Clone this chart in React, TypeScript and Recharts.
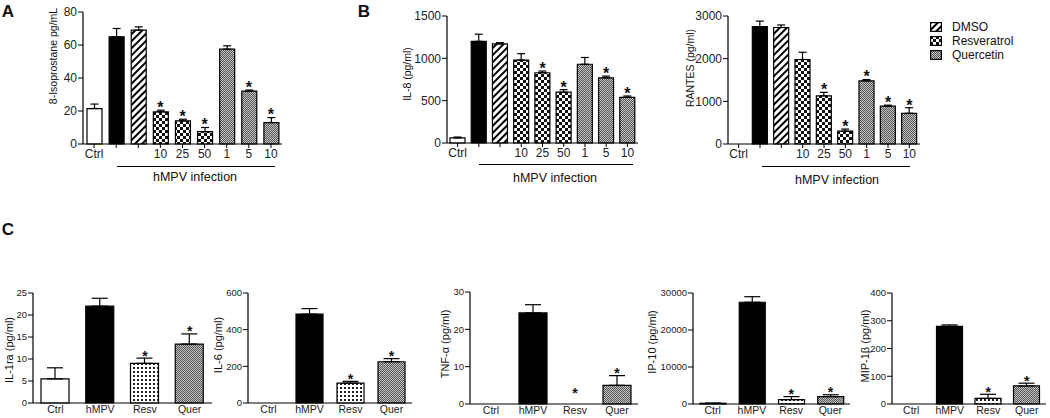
import React from "react";
import { ComposedChart, Bar, Cell, ErrorBar, Scatter, XAxis, YAxis } from "recharts";

const FONT = '"Liberation Sans", Arial, Helvetica, sans-serif';

// ---- panels A and B: dose series ----
const doseKeys = ["ctrl", "hmpv", "dmso", "r10", "r25", "r50", "q1", "q5", "q10"];
const doseLabels = ["Ctrl", "", "", "10", "25", "50", "1", "5", "10"];
const doseFills = [
  "#ffffff", "#000000", "url(#hatch)",
  "url(#chk)", "url(#chk)", "url(#chk)",
  "url(#fine)", "url(#fine)", "url(#fine)",
];

const isoValues = [21.5, 65, 69, 19.5, 14, 7.5, 57.5, 32, 13];
const isoErrors = [2.7, 5, 2, 1, 1, 2.5, 2, 0.7, 3];
const isoStars = [null, null, null, 20.5, 15, 10, null, 32.7, 16];
const isoTicks = [0, 20, 40, 60, 80];

const il8Values = [60, 1200, 1170, 980, 830, 600, 930, 770, 540];
const il8Errors = [10, 85, 15, 75, 20, 30, 80, 20, 15];
const il8Stars = [null, null, null, null, 850, 630, null, 790, 555];
const il8Ticks = [0, 500, 1000, 1500];

const rantesValues = [0, 2750, 2730, 1980, 1130, 300, 1480, 890, 720];
const rantesErrors = [0, 130, 60, 170, 80, 50, 30, 20, 130];
const rantesStars = [null, null, null, null, 1210, 350, 1510, 910, 850];
const rantesTicks = [0, 1000, 2000, 3000];

// ---- panel C: cytokines ----
const groupKeys = ["Ctrl", "hMPV", "Resv", "Quer"];
const groupFills = ["#ffffff", "#000000", "url(#dots)", "url(#fine)"];

const il1raValues = [5.5, 22, 9, 13.4];
const il1raErrors = [2.5, 1.8, 1.2, 2.3];
const il1raStars = [null, null, 10.2, 15.7];
const il1raTicks = [0, 5, 10, 15, 20, 25];

const il6Values = [0, 485, 108, 225];
const il6Errors = [0, 30, 10, 17];
const il6Stars = [null, null, 118, 242];
const il6Ticks = [0, 200, 400, 600];

const tnfValues = [0, 24.4, 0, 5];
const tnfErrors = [0, 2.2, 0, 2.6];
const tnfStars = [null, null, 2.2, 7.6];
const tnfTicks = [0, 10, 20, 30];

const ip10Values = [200, 27500, 1200, 2000];
const ip10Errors = [0, 1500, 800, 500];
const ip10Stars = [null, null, 2000, 2500];
const ip10Ticks = [0, 10000, 20000, 30000];

const mipValues = [0, 280, 20, 65];
const mipErrors = [0, 5, 15, 10];
const mipStars = [null, null, 35, 75];
const mipTicks = [0, 100, 200, 300, 400];

const legendItems = [
  { label: "DMSO", fill: "url(#hatch)" },
  { label: "Resveratrol", fill: "url(#chk)" },
  { label: "Quercetin", fill: "url(#fine)" },
];

type PanelProps = {
  x0: number;
  x1: number;
  yTop: number;
  yZero: number;
  keys: string[];
  labels: string[];
  values: number[];
  errors: number[];
  stars: (number | null)[];
  fills: string[];
  ticks: number[];
  barSize: number;
  capW: number;
  fontSize: number;
  yFontSize: number;
  starSize: number;
  tickLine: boolean;
};

const starShape = (size: number) => (props: any) => {
  const { cx, cy, payload } = props;
  if (payload == null || payload.star == null || !Number.isFinite(cy)) return <g />;
  return (
    <text x={cx} y={cy + size * 0.18} textAnchor="middle" fontSize={size} fontWeight="bold" fontFamily={FONT} fill="#111">
      *
    </text>
  );
};

function Panel(p: PanelProps) {
  const axisW = 44;
  const mTop = 14;
  const axisH = 28;
  const data = p.keys.map((k, i) => ({
    key: k,
    value: p.values[i],
    err: [0, p.errors[i]],
    star: p.stars[i],
  }));
  const width = p.x1 - p.x0 + axisW + 4;
  const height = p.yZero - p.yTop + mTop + axisH;
  const xTick = { fontSize: p.fontSize, fill: "#222", fontFamily: FONT };
  const yTick = { fontSize: p.yFontSize, fill: "#222", fontFamily: FONT };
  return (
    <div style={{ position: "absolute", left: p.x0 - axisW, top: p.yTop - mTop }}>
      <ComposedChart width={width} height={height} data={data} margin={{ top: mTop, right: 4, bottom: 0, left: 0 }}>
        <XAxis
          dataKey="key"
          interval={0}
          height={axisH}
          tickFormatter={(_v: any, i: number) => p.labels[i]}
          tick={xTick}
          tickLine={p.tickLine ? { stroke: "#000" } : false}
          tickSize={p.tickLine ? 4 : 2}
          tickMargin={1}
          axisLine={{ stroke: "#000", strokeWidth: 1.2 }}
        />
        <YAxis
          width={axisW}
          type="number"
          domain={[0, p.ticks[p.ticks.length - 1]]}
          ticks={p.ticks}
          interval={0}
          tick={yTick}
          tickSize={5}
          tickMargin={1}
          tickLine={{ stroke: "#000" }}
          axisLine={{ stroke: "#000", strokeWidth: 1.2 }}
        />
        <Bar dataKey="value" barSize={p.barSize} stroke="#000" strokeWidth={1.2} isAnimationActive={false}>
          {data.map((d, i) => (
            <Cell key={d.key} fill={p.fills[i]} />
          ))}
          <ErrorBar dataKey="err" width={p.capW} stroke="#000" strokeWidth={1.2} direction="y" />
        </Bar>
        <Scatter dataKey="star" shape={starShape(p.starSize)} isAnimationActive={false} />
      </ComposedChart>
    </div>
  );
}

function Text(props: { x: number; y: number; size: number; children: React.ReactNode; rotate?: boolean; bold?: boolean }) {
  return (
    <div
      style={{
        position: "absolute",
        left: props.x,
        top: props.y,
        transform: `translate(-50%, -50%)${props.rotate ? " rotate(-90deg)" : ""}`,
        fontSize: props.size,
        fontWeight: props.bold ? "bold" : "normal",
        fontFamily: FONT,
        color: "#111",
        whiteSpace: "nowrap",
        lineHeight: 1,
      }}
    >
      {props.children}
    </div>
  );
}

function Line(props: { x0: number; x1: number; y: number }) {
  return (
    <div style={{ position: "absolute", left: props.x0, top: props.y, width: props.x1 - props.x0, height: 1.3, background: "#000" }} />
  );
}

export default function App() {
  const dose = { keys: doseKeys, labels: doseLabels, fills: doseFills, barSize: 15, capW: 4, fontSize: 12, yFontSize: 12, starSize: 16, tickLine: true };
  const grp = { keys: groupKeys, labels: groupKeys, fills: groupFills, capW: 8, fontSize: 10.5, yFontSize: 9.5, starSize: 14, tickLine: false };
  return (
    <div style={{ position: "absolute", left: 0, top: 0, width: 1050, height: 418, background: "#fff", overflow: "hidden" }}>
      <svg width={0} height={0} style={{ position: "absolute" }}>
        <defs>
          <pattern id="hatch" width={5} height={5} patternUnits="userSpaceOnUse" patternTransform="rotate(45)">
            <rect width={5} height={5} fill="#fff" />
            <rect width={2} height={5} fill="#000" />
          </pattern>
          <pattern id="chk" width={6} height={6} patternUnits="userSpaceOnUse">
            <rect width={6} height={6} fill="#fff" />
            <rect x={0} y={0} width={3} height={3} fill="#111" />
            <rect x={3} y={3} width={3} height={3} fill="#111" />
          </pattern>
          <pattern id="dots" width={4} height={4} patternUnits="userSpaceOnUse">
            <rect width={4} height={4} fill="#fff" />
            <rect x={0} y={0} width={2} height={2} fill="#222" />
          </pattern>
          <pattern id="fine" width={2} height={2} patternUnits="userSpaceOnUse">
            <rect width={2} height={2} fill="#c4c4c4" />
            <rect x={0} y={0} width={1} height={1} fill="#555" />
            <rect x={1} y={1} width={1} height={1} fill="#555" />
          </pattern>
        </defs>
      </svg>

      <Text x={8} y={11} size={17} bold>A</Text>
      <Text x={364} y={11} size={17} bold>B</Text>
      <Text x={8} y={229} size={17} bold>C</Text>

      <Panel {...dose} x0={83} x1={282} yTop={12} yZero={144} values={isoValues} errors={isoErrors} stars={isoStars} ticks={isoTicks} />
      <Text x={53} y={56} size={10.5} rotate>8-Isoprostane pg/mL</Text>
      <Line x0={117} x1={275} y={166} />
      <Text x={195} y={177} size={12.5}>hMPV infection</Text>

      <Panel {...dose} x0={447} x1={638} yTop={16} yZero={143} values={il8Values} errors={il8Errors} stars={il8Stars} ticks={il8Ticks} />
      <Text x={407} y={74} size={10.5} rotate>IL-8 (pg/ml)</Text>
      <Line x0={479} x1={633} y={164} />
      <Text x={555} y={178} size={12.5}>hMPV infection</Text>

      <Panel {...dose} x0={728} x1={920} yTop={16} yZero={144} values={rantesValues} errors={rantesErrors} stars={rantesStars} ticks={rantesTicks} />
      <Text x={690} y={68} size={10.5} rotate>RANTES (pg/ml)</Text>
      <Line x0={762} x1={910} y={166} />
      <Text x={837} y={180} size={12.5}>hMPV infection</Text>

      {legendItems.map((it, i) => (
        <div key={it.label} style={{ position: "absolute", left: 930, top: 21 + i * 14, display: "flex", alignItems: "center" }}>
          <svg width={12} height={10}>
            <rect x={0.6} y={0.6} width={10.8} height={8.8} fill={it.fill} stroke="#000" strokeWidth={1.2} />
          </svg>
          <span style={{ marginLeft: 10, fontSize: 12, fontFamily: FONT, color: "#111", lineHeight: 1 }}>{it.label}</span>
        </div>
      ))}

      <Panel {...grp} x0={33} x1={212} yTop={293} yZero={403} barSize={28} values={il1raValues} errors={il1raErrors} stars={il1raStars} ticks={il1raTicks} />
      <Text x={9} y={350} size={11} rotate>IL-1ra (pg/ml)</Text>

      <Panel {...grp} x0={248} x1={412} yTop={293} yZero={403} barSize={27} values={il6Values} errors={il6Errors} stars={il6Stars} ticks={il6Ticks} />
      <Text x={218} y={345} size={11} rotate>IL-6 (pg/ml)</Text>

      <Panel {...grp} x0={470} x1={638} yTop={292} yZero={404} barSize={28} values={tnfValues} errors={tnfErrors} stars={tnfStars} ticks={tnfTicks} />
      <Text x={445} y={344} size={11} rotate>TNF-α (pg/ml)</Text>

      <Panel {...grp} x0={693} x1={850} yTop={293} yZero={404} barSize={26} values={ip10Values} errors={ip10Errors} stars={ip10Stars} ticks={ip10Ticks} />
      <Text x={652} y={342} size={11} rotate>IP-10 (pg/ml)</Text>

      <Panel {...grp} x0={892} x1={1046} yTop={293} yZero={404} barSize={26} values={mipValues} errors={mipErrors} stars={mipStars} ticks={mipTicks} />
      <Text x={865} y={346} size={11} rotate>MIP-1β (pg/ml)</Text>
    </div>
  );
}
